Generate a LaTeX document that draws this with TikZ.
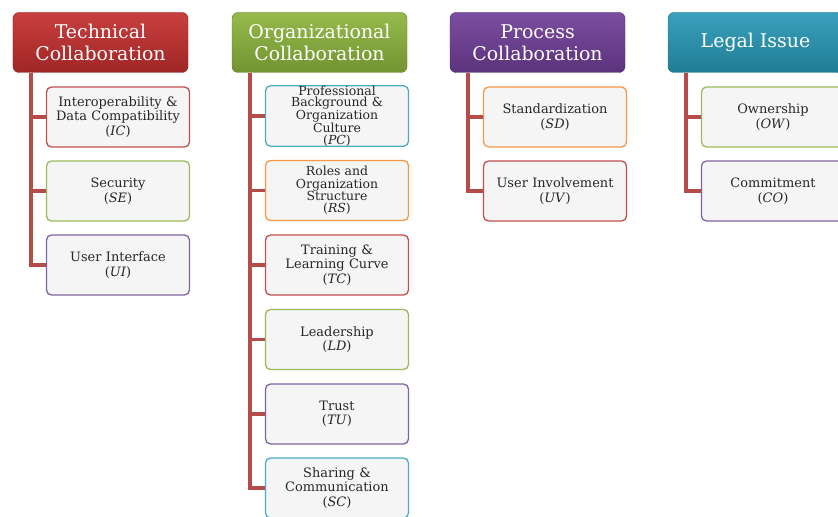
\documentclass[tikz,border=0pt]{standalone}
\usepackage{fontspec}
\setmainfont{DejaVu Serif}
\usepackage{xcolor}
\usetikzlibrary{calc}

\definecolor{techred}{HTML}{C0504D}
\definecolor{orggreen}{HTML}{9BBB59}
\definecolor{procpurple}{HTML}{8064A2}
\definecolor{legalcyan}{HTML}{4BACC6}
\definecolor{boxorange}{HTML}{F79646}
\definecolor{techhead}{HTML}{C42E2E}
\definecolor{orghead}{HTML}{8CB43C}
\definecolor{prochead}{HTML}{703E98}
\definecolor{legalhead}{HTML}{2898B6}

\begin{document}
\begin{tikzpicture}[x=1bp, y=-1bp,
	head/.style = {draw = #1!70!black, top color = #1!92!white, bottom color = #1!82!black,
		rounded corners = 6bp, minimum width = 175bp, minimum height = 60bp, inner sep = 0pt,
		align = center, text = white, font = \fontsize{19}{22}\selectfont},
	item/.style = {draw = #1, line width = 1.3bp, fill = black!4, rounded corners = 5bp,
		minimum width = 143bp, minimum height = 60bp, inner sep = 0pt, text width = 140bp,
		align = center, text = black!85, font = \fontsize{13}{14.5}\selectfont},
	link/.style = {draw = techred!95!black, line width = 3.5bp}]
	\def\off{18bp};
	
	\clip (0,0) rectangle (838,517);
	
	% headers
	\node [head = techhead] (tc) at (100.5,42.5) {Technical\\Collaboration};
	\node [head = orghead] (oc) at (319.5,42.5) {Organizational\\Collaboration};
	\node [head = prochead] (pc) at (537.5,42.5) {Process\\Collaboration};
	\node [head = legalhead] (li) at (755.5,42.5) {Legal Issue};
	
	% technical
	\node [item = techred] (ic) at (118,117) {Interoperability \&\\Data Compatibility\\(\textit{IC})};
	\node [item = orggreen] (se) at (118,191) {Security\\(\textit{SE})};
	\node [item = procpurple] (ui) at (118,265) {User Interface\\(\textit{UI})};
	
	% organizational
	\node [item = legalcyan, font = \fontsize{12.5}{11.5}\selectfont] (bc) at (337,116) {Professional\\Background \&\\Organization\\Culture\\(\textit{PC})};
	\node [item = boxorange, font = \fontsize{12.5}{12.5}\selectfont] (rs) at (337,190.5) {Roles and\\Organization\\Structure\\(\textit{RS})};
	\node [item = techred] (lc) at (337,265) {Training \&\\Learning Curve\\(\textit{TC})};
	\node [item = orggreen] (ld) at (337,339.5) {Leadership\\(\textit{LD})};
	\node [item = procpurple] (tu) at (337,414) {Trust\\(\textit{TU})};
	\node [item = legalcyan] (sc) at (337,488) {Sharing \&\\Communication\\(\textit{SC})};
	
	% process
	\node [item = boxorange] (sd) at (555,117) {Standardization\\(\textit{SD})};
	\node [item = techred] (uv) at (555,191) {User Involvement\\(\textit{UV})};
	
	% legal
	\node [item = orggreen] (ow) at (773,117) {Ownership\\(\textit{OW})};
	\node [item = procpurple] (co) at (773,191) {Commitment\\(\textit{CO})};
	
	\foreach \c in {ic, se, ui} \draw [link] ([xshift = \off]tc.south west) |- (\c.west);
	\foreach \c in {bc, rs, lc, ld, tu, sc} \draw [link] ([xshift = \off]oc.south west) |- (\c.west);
	\foreach \c in {sd, uv} \draw [link] ([xshift = \off]pc.south west) |- (\c.west);
	\foreach \c in {ow, co} \draw [link] ([xshift = \off]li.south west) |- (\c.west);
\end{tikzpicture}
\end{document}
